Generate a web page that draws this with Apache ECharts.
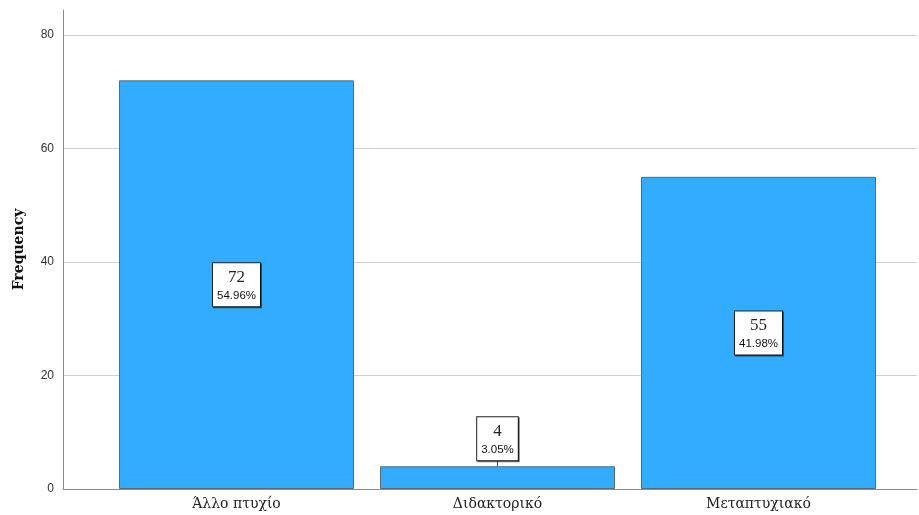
<!DOCTYPE html>
<html>
<head>
<meta charset="utf-8">
<script src="https://cdn.jsdelivr.net/npm/echarts@6/dist/echarts.min.js"></script>
<style>html,body{margin:0;padding:0;background:#fff}#c{width:919px;height:515px}</style>
</head>
<body>
<div id="c"></div>
<script>
const categories = ['Άλλο πτυχίο', 'Διδακτορικό', 'Μεταπτυχιακό'];
const frequencies = [72, 4, 55];
const percents = ['54.96%', '3.05%', '41.98%'];
const yTicks = [0, 20, 40, 60, 80];

const chart = echarts.init(document.getElementById('c'), null, {renderer: 'canvas'});
const serif = "'Liberation Serif', 'DejaVu Serif', serif";
const wideSerif = "'DejaVu Serif', 'Liberation Serif', serif";
const sans = "'Liberation Sans', Arial, sans-serif";

const seriesData = frequencies.map((v, i) => ({
  value: v,
  label: i === 1 ? {position: 'top', distance: 0} : {position: 'inside'}
}));

chart.setOption({
  animation: false,
  grid: [
    {left: 63, right: 2, top: 35, bottom: 26, outerBoundsMode: 'none', containLabel: false},
    {left: 106, right: 30, top: 10, bottom: 26, outerBoundsMode: 'none', containLabel: false}
  ],
  xAxis: [
    {gridIndex: 0, type: 'value', min: 0, max: 1,
     axisLine: {show: true, lineStyle: {color: '#8c8c8c', width: 1}},
     axisTick: {show: false}, axisLabel: {show: false}, splitLine: {show: false}},
    {gridIndex: 1, type: 'category', data: categories,
     axisLine: {show: false}, axisTick: {show: false},
     axisLabel: {fontFamily: wideSerif, fontSize: 14, color: '#222', margin: 8}}
  ],
  yAxis: [
    {gridIndex: 0, type: 'value', min: yTicks[0], max: yTicks[yTicks.length - 1], interval: 20,
     axisLine: {show: false}, axisTick: {show: false},
     axisLabel: {fontFamily: sans, fontSize: 12, color: '#333', margin: 9},
     splitLine: {show: true, lineStyle: {color: '#cfcfcf', width: 1}}},
    {gridIndex: 1, type: 'value', min: 0, max: 84.4, offset: 43,
     axisLine: {show: true, lineStyle: {color: '#8c8c8c', width: 1}},
     axisTick: {show: false}, axisLabel: {show: false}, splitLine: {show: false},
     name: 'Frequency', nameLocation: 'middle', nameRotate: 90, nameGap: 37,
     nameTextStyle: {fontFamily: wideSerif, fontWeight: 'bold', fontSize: 14, color: '#111'}}
  ],
  series: [{
    type: 'bar',
    xAxisIndex: 1, yAxisIndex: 1,
    data: seriesData,
    barWidth: 235,
    itemStyle: {color: '#31acfe', borderColor: '#56687a', borderWidth: 1},
    label: {
      show: true,
      formatter: p => '{a|' + p.value + '}\n{b|' + percents[p.dataIndex] + '}',
      backgroundColor: '#fff', borderColor: '#222', borderWidth: 1,
      padding: [4, 4, 3, 4],
      shadowColor: 'rgba(0,0,0,0.5)', shadowOffsetX: 1, shadowOffsetY: 1, shadowBlur: 0,
      rich: {
        a: {fontFamily: serif, fontSize: 17, color: '#222', lineHeight: 21, align: 'center'},
        b: {fontFamily: sans, fontSize: 11.5, color: '#111', lineHeight: 15, align: 'center'}
      }
    },
    labelLayout: p => p.dataIndex === 1 ? {dy: -6} : {},
    labelLine: {show: true, lineStyle: {color: '#444', width: 1}, length2: 0}
  }]
});
</script>
</body>
</html>
